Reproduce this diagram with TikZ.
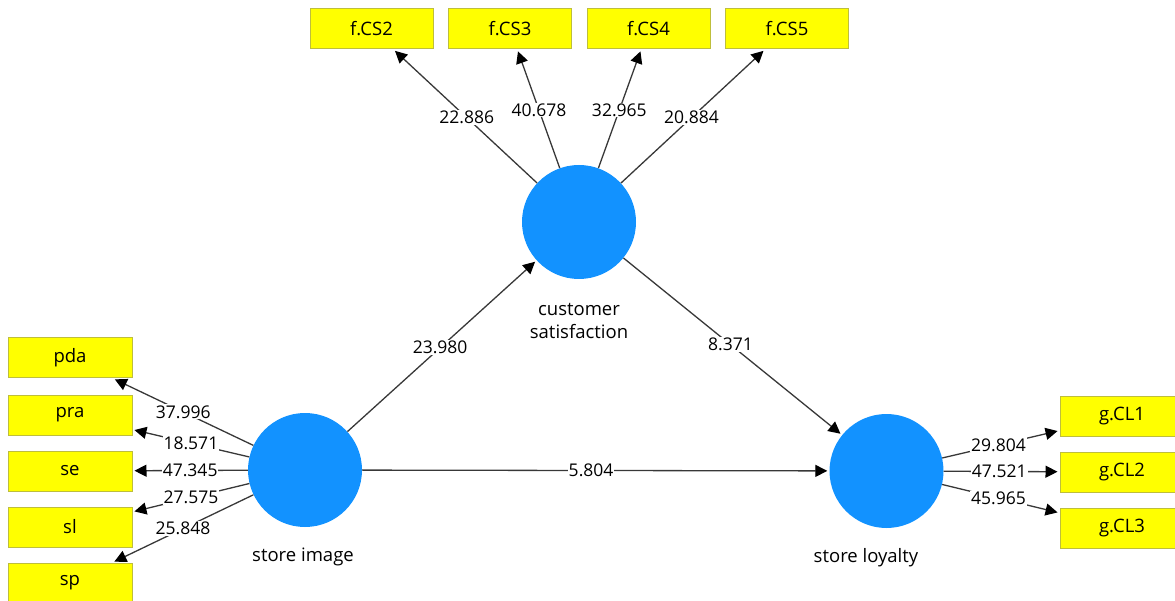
\documentclass[tikz,border=0pt]{standalone}
\usepackage{fontspec}
\setmainfont{Open Sans}
\usetikzlibrary{arrows.meta}
\definecolor{lvblue}{RGB}{18,146,255}
\definecolor{mvyellow}{RGB}{255,255,0}
\definecolor{mvborder}{RGB}{190,190,60}
\definecolor{pathgray}{RGB}{56,56,56}

\begin{document}
\begin{tikzpicture}[x=1pt, y=-1pt, font=\fontsize{17.5}{23}\selectfont,
  latent/.style={circle, fill=lvblue, minimum size=114pt, inner sep=0pt},
  lvname/.style={font=\fontsize{18.5}{23}\selectfont},
  item/.style={rectangle, fill=mvyellow, draw=mvborder, line width=1pt, minimum width=123pt, minimum height=40pt, inner sep=0pt, font=\fontsize{18.5}{23}\selectfont},
  load/.style={draw=pathgray, line width=1.3pt, -{Triangle[length=12pt,width=12pt,color=black]}, shorten >=2pt},
  coef/.style={fill=white, inner sep=1pt, pos=0.49}]

\useasboundingbox (0,0) rectangle (1175,601);

% latent variables
\node[latent] (cs) at (579,222) {};
\node[latent] (si) at (305,470) {};
\node[latent] (sl) at (886.5,471) {};

\node[lvname, align=center] (cslabel) at (579,321) {customer\\satisfaction};
\node[lvname] (silabel) at (303,557) {store image};
\node[lvname] (sllabel) at (866,558) {store loyalty};

% indicators
\node[item] (fcs2) at (371.5,29) {f.CS2};
\node[item] (fcs3) at (510,29) {f.CS3};
\node[item] (fcs4) at (648.5,29) {f.CS4};
\node[item] (fcs5) at (787,29) {f.CS5};

\node[item, minimum width=124pt] (pda) at (70,358) {pda};
\node[item, minimum width=124pt] (pra) at (70,415) {pra};
\node[item, minimum width=124pt] (se) at (70,471) {se};
\node[item, minimum width=124pt] (sl2) at (70,527) {sl};
\node[item, minimum width=124pt] (sp) at (70,583) {sp};

\node[item, minimum width=124pt] (gcl1) at (1122,416) {g.CL1};
\node[item, minimum width=124pt] (gcl2) at (1122,472) {g.CL2};
\node[item, minimum width=124pt] (gcl3) at (1122,528) {g.CL3};

% outer loadings
\draw[load] (cs) -- node[coef] {22.886} (fcs2);
\draw[load] (cs) -- node[coef] {40.678} (fcs3);
\draw[load] (cs) -- node[coef] {32.965} (fcs4);
\draw[load] (cs) -- node[coef] {20.884} (fcs5);

\draw[load] (si) -- node[coef, pos=0.5] {37.996} (pda);
\draw[load] (si) -- node[coef, pos=0.5] {18.571} (pra);
\draw[load] (si) -- node[coef, pos=0.5] {47.345} (se);
\draw[load] (si) -- node[coef, pos=0.5] {27.575} (sl2);
\draw[load] (si) -- node[coef, pos=0.5] {25.848} (sp);

\draw[load] (sl) -- node[coef, pos=0.48] {29.804} (gcl1);
\draw[load] (sl) -- node[coef, pos=0.48] {47.521} (gcl2);
\draw[load] (sl) -- node[coef, pos=0.48] {45.965} (gcl3);

% inner model
\draw[load] (si) -- node[coef] {23.980} (cs);
\draw[load] (cs) -- node[coef] {8.371} (sl);
\draw[load] (si) -- node[coef] {5.804} (sl);
\end{tikzpicture}
\end{document}
